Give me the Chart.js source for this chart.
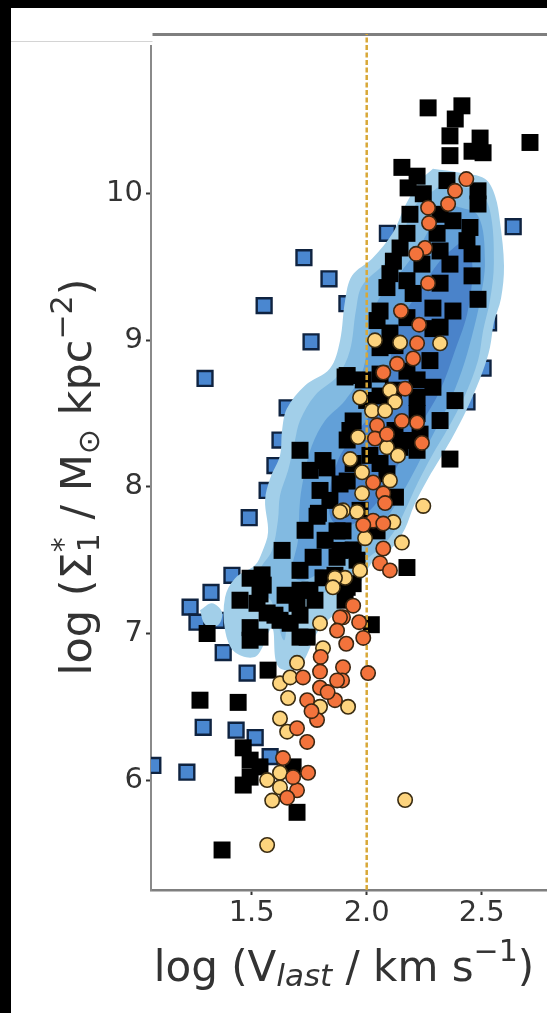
<!DOCTYPE html>
<html>
<head>
<meta charset="utf-8">
<script src="https://cdn.jsdelivr.net/npm/chart.js@4.4.1/dist/chart.umd.min.js"></script>
<style>
  html, body { margin: 0; padding: 0; background: #fff; }
  body { width: 547px; height: 1013px; position: relative; overflow: hidden; }
  .band-top { position: absolute; left: 0; top: 0; width: 547px; height: 8px; background: #000; }
  .band-left { position: absolute; left: 0; top: 0; width: 11px; height: 1013px; background: #000; }
  #chart { position: absolute; left: 11px; top: 8px; }
</style>
</head>
<body>
<div class="band-top"></div>
<div class="band-left"></div>
<canvas id="chart" width="536" height="1005"></canvas>
<script>
// Axis ranges and ticks
const xRange = [1.062, 2.784];
const yRange = [5.25, 11.09];
const xTicks = [1.5, 2.0, 2.5];
const yTicks = [6, 7, 8, 9, 10];
const dividerX = 2.0;

// Scatter samples [log Vlast, log Sigma1]
const blueSquares = [
    [1.727, 9.564], [1.836, 9.42], [1.554, 9.237], [1.758, 8.99], [1.914, 9.25],
    [1.297, 8.74], [1.654, 8.54], [1.623, 8.32], [1.601, 8.146], [1.567, 7.976],
    [1.489, 7.79], [1.414, 7.397], [1.323, 7.28], [1.232, 7.18], [1.262, 7.077],
    [1.349, 7.09], [1.376, 6.87], [1.48, 6.73], [1.289, 6.36], [1.432, 6.34],
    [1.515, 6.29], [1.58, 6.16], [1.218, 6.054], [1.07, 6.10], [2.637, 9.775],
    [2.09, 9.73], [2.506, 8.81], [2.436, 8.58], [2.53, 9.12]
];

const blackSquares = [
    [2.267, 10.586], [2.414, 10.6], [2.385, 10.51], [2.362, 10.395], [2.493, 10.38],
    [2.458, 10.29], [2.362, 10.26], [2.506, 10.28], [2.71, 10.35], [2.153, 10.18],
    [2.219, 10.12], [2.18, 10.04], [2.246, 10.0], [2.349, 10.09], [2.484, 10.02],
    [2.484, 9.93], [2.188, 9.86], [2.319, 9.86], [2.375, 9.816], [2.449, 9.77],
    [2.175, 9.73], [2.306, 9.73], [2.436, 9.68], [2.145, 9.63], [2.319, 9.61],
    [2.458, 9.59], [2.116, 9.54], [2.24, 9.52], [2.362, 9.52], [2.101, 9.455],
    [2.458, 9.44], [2.175, 9.407], [2.319, 9.39], [2.088, 9.36], [2.202, 9.32],
    [2.484, 9.28], [2.058, 9.20], [2.288, 9.22], [2.375, 9.20], [2.045, 9.135],
    [2.175, 9.155], [2.319, 9.09], [2.101, 9.05], [2.288, 9.08], [2.058, 8.95],
    [1.915, 8.76], [2.175, 8.79], [2.058, 8.77], [2.288, 8.68], [2.0, 8.59],
    [2.219, 8.50], [2.116, 8.66], [1.941, 8.45], [2.232, 8.36], [1.915, 8.32],
    [2.145, 8.27], [1.827, 8.13], [1.941, 8.16], [2.088, 8.09], [1.71, 8.25],
    [2.362, 8.19], [1.906, 8.75], [1.985, 8.73], [2.219, 8.73], [2.219, 8.61],
    [2.219, 8.25], [1.915, 8.04], [2.058, 8.16], [1.897, 7.70], [1.941, 7.57],
    [2.175, 7.45], [1.915, 7.315], [2.045, 7.70], [1.84, 7.908], [1.971, 7.84],
    [2.125, 7.93], [1.927, 8.385], [2.123, 8.385], [2.014, 8.215],
    [1.884, 8.02], [1.784, 7.80], [1.871, 7.70], [1.632, 7.567], [1.767, 7.52],
    [1.871, 7.52], [1.493, 7.377], [1.55, 7.33], [1.71, 7.295], [1.81, 7.38],
    [1.897, 7.34], [1.523, 7.206], [1.567, 7.14], [1.493, 7.04], [1.536, 6.975],
    [1.697, 7.206], [1.667, 7.07], [1.741, 6.975], [1.306, 7.0], [1.571, 6.75],
    [1.275, 6.545], [1.441, 6.53], [1.463, 6.22], [1.493, 6.136], [1.536, 6.09],
    [1.463, 5.966], [1.493, 6.02], [1.697, 5.78], [1.371, 5.523], [1.68, 6.09],
    [1.79, 7.82], [1.884, 7.567], [1.958, 7.50], [1.536, 7.27], [1.941, 7.34],
    [1.623, 7.09], [1.71, 6.975], [2.02, 7.06], [1.81, 8.18],
    [1.754, 8.113], [1.797, 7.976], [1.732, 7.704], [1.819, 7.636], [1.710, 7.431],
    [1.862, 7.397], [1.775, 7.227], [1.545, 7.40], [1.645, 7.261], [1.601, 7.125],
    [1.449, 7.227], [1.493, 6.954], [1.710, 7.125], [1.753, 7.295], [1.906, 7.227],
    [2.123, 8.964], [2.275, 8.862], [2.384, 8.589], [2.319, 8.453], [2.167, 8.317],
    [2.058, 8.62]
];

const yellowCircles = [
    [2.036, 9.0], [2.145, 8.985], [2.319, 8.98], [2.101, 8.66], [2.123, 8.58],
    [1.971, 8.61], [2.023, 8.52], [2.08, 8.52], [1.962, 8.34], [2.088, 8.27],
    [2.136, 8.215], [1.928, 8.19], [1.98, 8.10], [2.101, 8.044], [1.98, 7.956],
    [2.246, 7.87], [1.897, 7.84], [1.958, 7.83], [2.116, 7.76], [2.153, 7.62],
    [1.993, 7.65], [1.971, 7.43], [1.906, 7.38], [1.862, 7.38], [1.853, 7.315],
    [1.884, 7.83], [1.797, 7.07], [1.81, 6.90], [1.697, 6.80], [1.623, 6.66],
    [1.658, 6.56], [1.797, 6.50], [1.919, 6.50], [1.623, 6.42], [1.654, 6.33],
    [1.567, 6.0], [1.589, 5.86], [1.623, 6.05], [1.623, 5.95], [1.567, 5.557],
    [2.167, 5.864], [1.667, 6.70]
];

const orangeCircles = [
    [2.433, 10.10], [2.384, 10.02], [2.354, 9.93], [2.267, 9.905], [2.271, 9.80],
    [2.254, 9.63], [2.215, 9.59], [2.267, 9.39], [2.149, 9.20], [2.228, 9.107],
    [2.219, 8.98], [2.202, 8.876], [2.132, 8.84], [2.072, 8.78], [2.167, 8.67],
    [2.153, 8.45], [2.219, 8.44], [2.24, 8.30], [2.045, 8.42], [2.036, 8.33],
    [2.088, 8.36], [2.028, 8.03], [2.072, 7.956], [2.08, 7.89], [2.028, 7.77],
    [1.985, 7.74], [2.072, 7.75], [2.072, 7.58], [2.058, 7.48], [2.101, 7.43],
    [1.941, 7.19], [1.897, 7.11], [1.967, 7.077], [1.985, 6.97], [1.911, 6.93],
    [1.897, 6.77], [2.006, 6.73], [1.893, 6.68], [1.884, 7.11], [1.871, 7.02],
    [1.797, 6.74], [1.723, 6.70], [1.797, 6.63], [1.871, 6.68], [1.741, 6.545],
    [1.862, 6.545], [1.784, 6.41], [1.697, 6.354], [1.741, 6.26], [1.636, 6.15],
    [1.745, 6.05], [1.697, 5.93], [1.654, 5.88], [1.68, 6.02], [1.80, 6.84],
    [1.76, 6.47], [1.83, 6.60]
];

// Density contour outlines (outer to core)
const contourOuter = [
    [2.288, 10.170], [2.406, 10.143], [2.514, 10.102], [2.558, 9.986], [2.580, 9.802],
    [2.597, 9.509], [2.584, 9.285], [2.553, 9.121], [2.536, 8.951], [2.506, 8.794],
    [2.449, 8.576], [2.384, 8.371], [2.319, 8.194], [2.267, 8.058], [2.206, 7.874],
    [2.167, 7.717], [2.119, 7.601], [2.067, 7.526], [2.023, 7.485], [1.927, 7.227],
    [1.797, 7.036], [1.701, 6.763], [1.614, 6.777], [1.588, 7.036], [1.519, 6.845],
    [1.427, 6.872], [1.384, 7.022], [1.384, 7.247], [1.427, 7.376], [1.514, 7.465],
    [1.545, 7.554], [1.571, 7.690], [1.558, 7.908], [1.580, 8.058], [1.623, 8.215],
    [1.632, 8.385], [1.653, 8.535], [1.732, 8.692], [1.840, 8.808], [1.884, 8.998],
    [1.906, 9.271], [1.936, 9.441], [2.023, 9.557], [2.114, 9.734], [2.167, 9.918],
    [2.232, 10.089]
];
const contourIsland = [
    [1.275, 7.158], [1.327, 7.206], [1.371, 7.145], [1.353, 7.056], [1.297, 7.063]
];
const contourMid = [
    [2.319, 10.055], [2.484, 10.020], [2.536, 9.884], [2.553, 9.530], [2.536, 9.271],
    [2.506, 9.066], [2.484, 8.862], [2.427, 8.624], [2.353, 8.399], [2.284, 8.215],
    [2.223, 8.031], [2.167, 7.840], [2.123, 7.704], [2.058, 7.581], [1.993, 7.499],
    [1.884, 7.329], [1.753, 7.240], [1.667, 7.145], [1.640, 6.954], [1.588, 7.213],
    [1.545, 7.295], [1.536, 7.431], [1.588, 7.567], [1.614, 7.772], [1.623, 7.942],
    [1.658, 8.112], [1.688, 8.317], [1.710, 8.453], [1.775, 8.624], [1.875, 8.760],
    [1.927, 8.930], [1.953, 9.203], [1.980, 9.373], [2.080, 9.530], [2.153, 9.714],
    [2.210, 9.918]
];
const contourInner = [
    [2.384, 9.918], [2.484, 9.850], [2.514, 9.543], [2.493, 9.271], [2.458, 9.032],
    [2.414, 8.794], [2.353, 8.555], [2.275, 8.317], [2.197, 8.078], [2.123, 7.874],
    [2.049, 7.704], [1.971, 7.581], [1.840, 7.465], [1.732, 7.363], [1.675, 7.397],
    [1.701, 7.636], [1.710, 7.908], [1.732, 8.112], [1.762, 8.283], [1.819, 8.453],
    [1.906, 8.590], [1.980, 8.780], [2.014, 9.066], [2.049, 9.271], [2.136, 9.441],
    [2.232, 9.646], [2.297, 9.816]
];
const contourCore = [
    [2.414, 9.680], [2.458, 9.543], [2.440, 9.203], [2.384, 8.930], [2.319, 8.658],
    [2.232, 8.419], [2.145, 8.181], [2.080, 7.976], [2.014, 7.840], [1.927, 7.738],
    [1.849, 7.772], [1.840, 7.976], [1.875, 8.181], [1.927, 8.317], [2.014, 8.487],
    [2.080, 8.692], [2.110, 8.930], [2.145, 9.135], [2.232, 9.339], [2.319, 9.543]
];

const FONT = "'DejaVu Sans', sans-serif";
const TEXT_COLOR = '#333333';

function toPoints(arr) {
    return arr.map(([x, y]) => ({ x, y }));
}

function closedShape(arr) {
    return toPoints(arr.concat([arr[0]]));
}

function contourDataset(arr, color, order) {
    return {
        data: closedShape(arr),
        showLine: true,
        fill: 'shape',
        backgroundColor: color,
        borderWidth: 0,
        pointRadius: 0,
        tension: 0.35,
        order: order,
        clip: 0
    };
}

// Draw a run of text pieces: [text, size, dy, italic, noAdvance]
function pieceWidth(ctx, pieces) {
    let w = 0;
    pieces.forEach(p => {
        ctx.font = (p[3] ? 'italic ' : '') + p[1] + 'px ' + FONT;
        if (!p[4]) w += ctx.measureText(p[0]).width;
    });
    return w;
}

function drawPieces(ctx, pieces, x, y) {
    let cx = x;
    pieces.forEach(p => {
        ctx.font = (p[3] ? 'italic ' : '') + p[1] + 'px ' + FONT;
        ctx.fillText(p[0], cx, y + p[2]);
        if (!p[4]) cx += ctx.measureText(p[0]).width;
    });
}

const xTitle = [
    ['log (V', 42, 0], ['last', 31, 5, true], [' / km s', 42, 0], ['\u22121', 30, -20], [')', 42, 0]
];
const yTitle = [
    ['log (\u03A3', 43, 0], ['*', 30, -18, false, true], ['1', 30, 8], [' / M', 43, 0],
    ['\u2299', 30, 8], [' kpc', 43, 0], ['\u22122', 30, -19], [')', 43, 0]
];

const decorPlugin = {
    id: 'decor',
    afterDraw(chart) {
        const ctx = chart.ctx;
        const area = chart.chartArea;
        ctx.save();
        ctx.fillStyle = TEXT_COLOR;
        ctx.textBaseline = 'alphabetic';
        ctx.textAlign = 'left';

        // x axis title
        const xw = pieceWidth(ctx, xTitle);
        drawPieces(ctx, xTitle, 333 - xw / 2, 973);

        // y axis title, rotated
        const yw = pieceWidth(ctx, yTitle);
        ctx.save();
        ctx.translate(80, 469);
        ctx.rotate(-Math.PI / 2);
        drawPieces(ctx, yTitle, -yw / 2, 0);
        ctx.restore();

        // blank panel corner over the top-left
        ctx.fillStyle = '#ffffff';
        ctx.fillRect(0, 0, area.left + 1.5, 37);
        ctx.strokeStyle = '#d4d4d4';
        ctx.lineWidth = 1;
        ctx.beginPath();
        ctx.moveTo(0, 33.5);
        ctx.lineTo(area.left + 1.5, 33.5);
        ctx.stroke();
        ctx.restore();
    }
};

const ctx = document.getElementById('chart').getContext('2d');
new Chart(ctx, {
    type: 'scatter',
    data: {
        datasets: [
            {
                data: toPoints(orangeCircles),
                pointStyle: 'circle',
                pointRadius: 7.2,
                backgroundColor: '#f3733c',
                borderColor: '#3a2612',
                borderWidth: 1.6,
                order: 0,
                clip: 0
            },
            {
                data: toPoints(yellowCircles),
                pointStyle: 'circle',
                pointRadius: 7.2,
                backgroundColor: '#fdd47e',
                borderColor: '#3a2c12',
                borderWidth: 1.6,
                order: 1,
                clip: 0
            },
            {
                data: [{ x: dividerX, y: yRange[0] }, { x: dividerX, y: yRange[1] }],
                showLine: true,
                borderColor: '#d8a838',
                borderWidth: 2.5,
                borderDash: [5, 2.5],
                pointRadius: 0,
                order: 2,
                clip: 0
            },
            {
                data: toPoints(blackSquares),
                pointStyle: 'rect',
                pointRadius: 12,
                backgroundColor: '#000000',
                borderWidth: 0,
                order: 3,
                clip: 0
            },
            contourDataset(contourCore, '#4a83ca', 4),
            contourDataset(contourInner, '#62a0d8', 5),
            contourDataset(contourMid, '#82bae1', 6),
            contourDataset(contourOuter, '#a2cfe9', 7),
            contourDataset(contourIsland, '#a2cfe9', 7),
            {
                data: toPoints(blueSquares),
                pointStyle: 'rect',
                pointRadius: 10.5,
                backgroundColor: '#4a87d0',
                borderColor: '#0f2340',
                borderWidth: 2.4,
                order: 8,
                clip: 0
            }
        ]
    },
    options: {
        responsive: false,
        animation: false,
        events: [],
        layout: { padding: 0, autoPadding: false },
        plugins: {
            legend: { display: false },
            tooltip: { enabled: false }
        },
        scales: {
            x: {
                type: 'linear',
                position: 'bottom',
                min: xRange[0],
                max: xRange[1],
                afterBuildTicks: axis => { axis.ticks = xTicks.map(v => ({ value: v })); },
                afterFit: axis => { axis.height = 123; },
                ticks: {
                    callback: v => v.toFixed(1),
                    color: TEXT_COLOR,
                    font: { family: FONT, size: 29 },
                    padding: 1,
                    maxRotation: 0
                },
                grid: { drawOnChartArea: false, drawTicks: true, tickLength: 5, tickColor: '#333', tickWidth: 2 },
                border: { display: true, color: '#7f7f7f', width: 2.5 }
            },
            xTop: {
                type: 'linear',
                position: 'top',
                min: xRange[0],
                max: xRange[1],
                afterFit: axis => { axis.height = 26; },
                ticks: { display: false },
                grid: { drawOnChartArea: false, drawTicks: false },
                border: { display: true, color: '#7f7f7f', width: 3 }
            },
            y: {
                type: 'linear',
                position: 'left',
                min: yRange[0],
                max: yRange[1],
                afterBuildTicks: axis => { axis.ticks = yTicks.map(v => ({ value: v })); },
                afterFit: axis => { axis.width = 140; },
                ticks: {
                    callback: v => String(v),
                    color: TEXT_COLOR,
                    font: { family: FONT, size: 29 },
                    padding: 3
                },
                grid: { drawOnChartArea: false, drawTicks: true, tickLength: 5, tickColor: '#333', tickWidth: 2 },
                border: { display: true, color: '#8a8a8a', width: 2 }
            }
        }
    },
    plugins: [decorPlugin]
});
</script>
</body>
</html>
